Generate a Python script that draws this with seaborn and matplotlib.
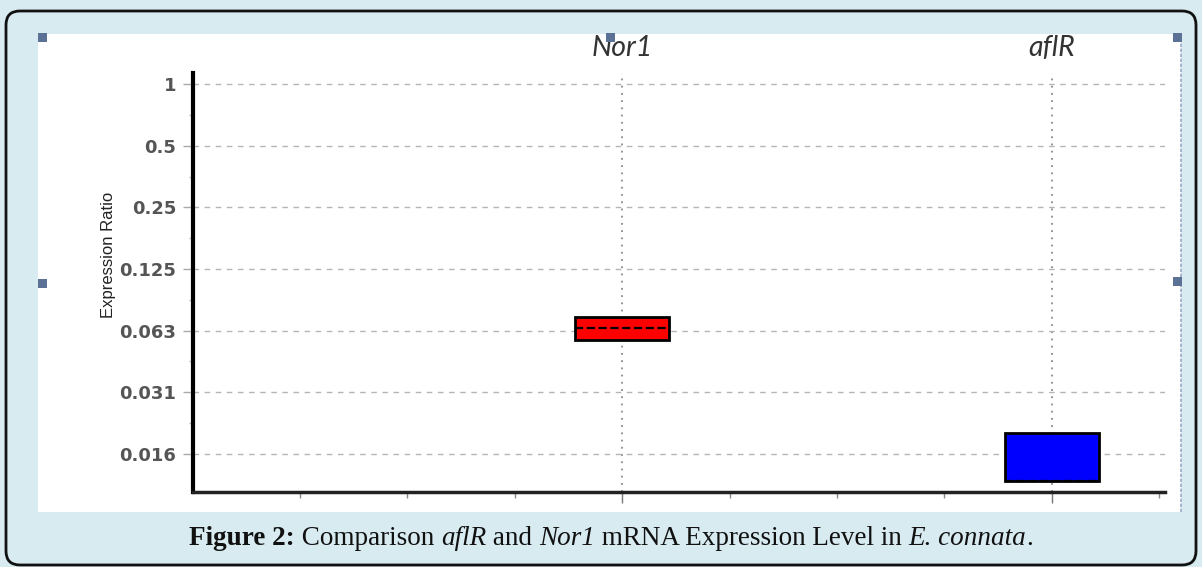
import numpy as np
import pandas as pd
import matplotlib
matplotlib.use("Agg")
import matplotlib.pyplot as plt
from matplotlib.patches import FancyBboxPatch, Rectangle
from matplotlib.lines import Line2D
from matplotlib.transforms import IdentityTransform
from matplotlib.ticker import FixedLocator, NullFormatter
import seaborn as sns

# ── data ──────────────────────────────────────────────────────────────────────
genes = ["Nor1", "aflR"]
box_low = [0.0559, 0.0115]
box_median = [0.0640, 0.0115]
box_high = [0.0724, 0.0198]
gene_colors = ["#ff0000", "#0000ff"]

y_ticks = [1, 0.5, 0.25, 0.125, 0.0625, 0.03125, 0.015625]
y_tick_labels = ["1", "0.5", "0.25", "0.125", "0.063", "0.031", "0.016"]

caption_parts = [
    ("Figure 2:", "normal", "bold"),
    (" Comparison ", "normal", "normal"),
    ("aflR", "italic", "normal"),
    (" and ", "normal", "normal"),
    ("Nor1", "italic", "normal"),
    (" mRNA Expression Level in ", "normal", "normal"),
    ("E. connata", "italic", "normal"),
    (".", "normal", "normal"),
]

# five values per gene so that the quartiles sit exactly on the box edges
rows = []
for g, lo, med, hi in zip(genes, box_low, box_median, box_high):
    for v in (lo, lo, med, hi, hi):
        rows.append({"gene": g, "ratio": v})
df = pd.DataFrame(rows)

sns.set_theme(style="white")
plt.rcParams["font.family"] = ["Liberation Sans", "DejaVu Sans"]

W, H = 1202, 567
fig = plt.figure(figsize=(W / 100, H / 100), dpi=100)
fig.patch.set_facecolor("#d7ebf1")
px = IdentityTransform()

# page frame + white picture panel
fig.add_artist(FancyBboxPatch((6, 2), 1190, 554, boxstyle="round,pad=0,rounding_size=14",
                              facecolor="#d7ebf1", edgecolor="#111111", lw=2,
                              transform=px, zorder=-3))
fig.add_artist(Rectangle((38, H - 512), 1143, 478, facecolor="white", edgecolor="none",
                         transform=px, zorder=-2))
fig.add_artist(Line2D([1181, 1181], [H - 512, H - 34], color="#9aabc6", lw=1.2,
                      linestyle=(0, (2, 1)), transform=px, zorder=-1))
for cx, cy in [(42, H - 37), (42, H - 283), (610, H - 37), (1177, H - 37), (1177, H - 281)]:
    fig.add_artist(Rectangle((cx - 4.5, cy - 4.5), 9, 9, facecolor="#5b7195",
                             edgecolor="none", transform=px, zorder=5))

# ── chart ─────────────────────────────────────────────────────────────────────
ax = fig.add_axes([193 / W, (H - 492) / H, 972 / W, 419 / H])
ax.set_facecolor("none")

sns.boxplot(data=df, x="gene", y="ratio", hue="gene", order=genes, hue_order=genes,
            palette=gene_colors, saturation=1, width=0.22, log_scale=2, whis=0,
            showcaps=False, fliersize=0, legend=False, linecolor="black", linewidth=2,
            medianprops=dict(color="black", linestyle="--", linewidth=1.6),
            whiskerprops=dict(linewidth=0), ax=ax)

ax.set_ylim(2 ** -6.62, 2 ** 0.18)
ax.set_xlim(-0.998, 1.263)
ax.set_yticks(y_ticks, labels=y_tick_labels)
ax.yaxis.set_minor_locator(FixedLocator([np.sqrt(a * b) for a, b in zip(y_ticks[:-1], y_ticks[1:])]))
ax.yaxis.set_minor_formatter(NullFormatter())
ax.xaxis.set_minor_locator(FixedLocator(np.arange(-0.75, 1.3, 0.25)))

ax.set_xlabel("")
ax.set_ylabel("Expression Ratio", family=["Liberation Sans Narrow", "Liberation Sans", "DejaVu Sans"],
              fontsize=12, color="#222222")
ax.yaxis.set_label_coords(-0.079, 0.566)

ax.tick_params(axis="x", which="major", bottom=True, top=False, labelbottom=False, labeltop=True,
               length=8, width=1, color="#777777", pad=0.5, labelsize=20.5, labelcolor="#333333")
ax.tick_params(axis="x", which="minor", bottom=True, length=4, width=1, color="#888888")
for lbl in ax.get_xticklabels():
    lbl.set_fontstyle("italic")
    lbl.set_family(["Lato", "DejaVu Sans"])
ax.tick_params(axis="y", which="major", left=True, length=7, width=1, color="#aaaaaa", pad=5,
               labelsize=13, labelcolor="#555555")
ax.tick_params(axis="y", which="minor", left=True, length=3, width=1, color="#bbbbbb")
for lbl in ax.get_yticklabels():
    lbl.set_fontweight("bold")
    lbl.set_family(["DejaVu Sans"])

ax.set_axisbelow(True)
ax.grid(axis="y", which="major", color="#b5b5b5", linestyle=(0, (4, 4)), lw=1)
ax.grid(axis="x", which="major", color="#8a8a8a", linestyle=(0, (1, 3)), lw=1.3)

for side in ("top", "right"):
    ax.spines[side].set_visible(False)
ax.spines["left"].set_linewidth(3)
ax.spines["left"].set_color("black")
ax.spines["bottom"].set_linewidth(2.5)
ax.spines["bottom"].set_color("#222222")

# ── caption, built piece by piece and centred ─────────────────────────────────
renderer = fig.canvas.get_renderer()
cap_size = 19.5
pieces = []
for txt, style, weight in caption_parts:
    t = fig.text(0, 0, txt, fontsize=cap_size, fontstyle=style, fontweight=weight,
                 family=["Liberation Serif", "DejaVu Serif"], color="#111111",
                 transform=px, va="baseline", ha="left")
    pieces.append(t)
widths = [t.get_window_extent(renderer).width for t in pieces]
x0 = 611 - sum(widths) / 2
for t, w in zip(pieces, widths):
    t.set_position((x0, H - 545))
    x0 += w

fig.savefig("out.png", dpi=100)
